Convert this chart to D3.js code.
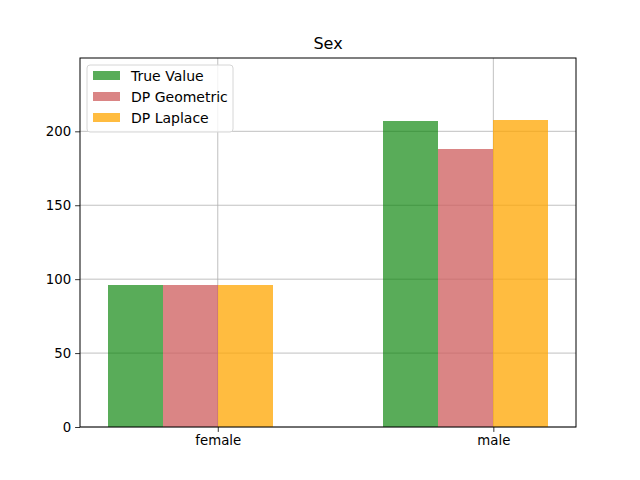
<!DOCTYPE html>
<html>
<head>
<meta charset="utf-8">
<script src="https://cdn.jsdelivr.net/npm/d3@7"></script>
<style>
  body { margin: 0; background: #fff; }
  text { font-family: "DejaVu Sans", sans-serif; fill: #000; }
</style>
</head>
<body>
<svg width="640" height="480"></svg>
<script>
var categories = ["female", "male"];
var seriesNames = ["True Value", "DP Geometric", "DP Laplace"];
var trueValues = [96, 207];
var geometricValues = [96, 188];
var laplaceValues = [96, 208];
var yTicks = [0, 50, 100, 150, 200];

var colors = ["#008000", "#cd5c5c", "#ffa500"];
var alphas = [0.65, 0.75, 0.75];
var allSeries = [trueValues, geometricValues, laplaceValues];

var svg = d3.select("svg");
var plotLeft = 80, plotRight = 576, plotTop = 58, plotBottom = 427;

var x = d3.scaleLinear().domain([-0.5, 1.3]).range([plotLeft, plotRight]);
var y = d3.scaleLinear().domain([0, 249.6]).range([plotBottom, plotTop]);
var barW = 0.2;

// grid
svg.append("g").selectAll("line").data(yTicks).enter().append("line")
    .attr("x1", plotLeft).attr("x2", plotRight)
    .attr("y1", function (d) { return y(d); }).attr("y2", function (d) { return y(d); })
    .style("stroke", "#b0b0b0").style("stroke-width", 0.8);
svg.append("g").selectAll("line").data(categories).enter().append("line")
    .attr("x1", function (d, i) { return x(i); }).attr("x2", function (d, i) { return x(i); })
    .attr("y1", plotTop).attr("y2", plotBottom)
    .style("stroke", "#b0b0b0").style("stroke-width", 0.8);

// bars
allSeries.forEach(function (vals, s) {
    svg.append("g").selectAll("rect").data(vals).enter().append("rect")
        .attr("x", function (d, i) { return x(i - 0.4 + s * barW); })
        .attr("width", x(barW) - x(0))
        .attr("y", function (d) { return y(d); })
        .attr("height", function (d) { return plotBottom - y(d); })
        .attr("shape-rendering", "crispEdges")
        .style("fill", colors[s])
        .style("fill-opacity", alphas[s]);
});

// axes
var xAxis = d3.axisBottom(x).tickValues([0, 1])
    .tickFormat(function (d) { return categories[d]; })
    .tickSize(4.9).tickPadding(4);
var gx = svg.append("g").attr("transform", "translate(0," + plotBottom + ")").call(xAxis);
var yAxis = d3.axisLeft(y).tickValues(yTicks).tickSize(4.9).tickPadding(4);
var gy = svg.append("g").attr("transform", "translate(" + plotLeft + ",0)").call(yAxis);
[gx, gy].forEach(function (g) {
    g.select(".domain").remove();
    g.selectAll("text").style("font-size", "13.3px").style("font-family", "DejaVu Sans");
    g.selectAll("line").style("stroke", "#000").style("stroke-width", 0.8);
});

svg.append("rect").attr("x", plotLeft).attr("y", plotTop)
    .attr("width", plotRight - plotLeft).attr("height", plotBottom - plotTop)
    .style("fill", "none").style("stroke", "#000").style("stroke-width", 1);

// title
svg.append("text").attr("x", (plotLeft + plotRight) / 2).attr("y", plotTop - 9)
    .attr("text-anchor", "middle").style("font-size", "16px").text("Sex");

// legend
var lg = svg.append("g").attr("transform", "translate(87,65)");
lg.append("rect").attr("width", 146).attr("height", 67).attr("rx", 3)
    .style("fill", "#fff").style("fill-opacity", 0.8)
    .style("stroke", "#d6d6d6").style("stroke-width", 1);
seriesNames.forEach(function (n, i) {
    lg.append("rect").attr("x", 6).attr("y", 6 + i * 21).attr("width", 27).attr("height", 9)
        .style("fill", colors[i]).style("fill-opacity", alphas[i]);
    lg.append("text").attr("x", 44).attr("y", 16 + i * 21)
        .style("font-size", "14px").text(n);
});
</script>
</body>
</html>
